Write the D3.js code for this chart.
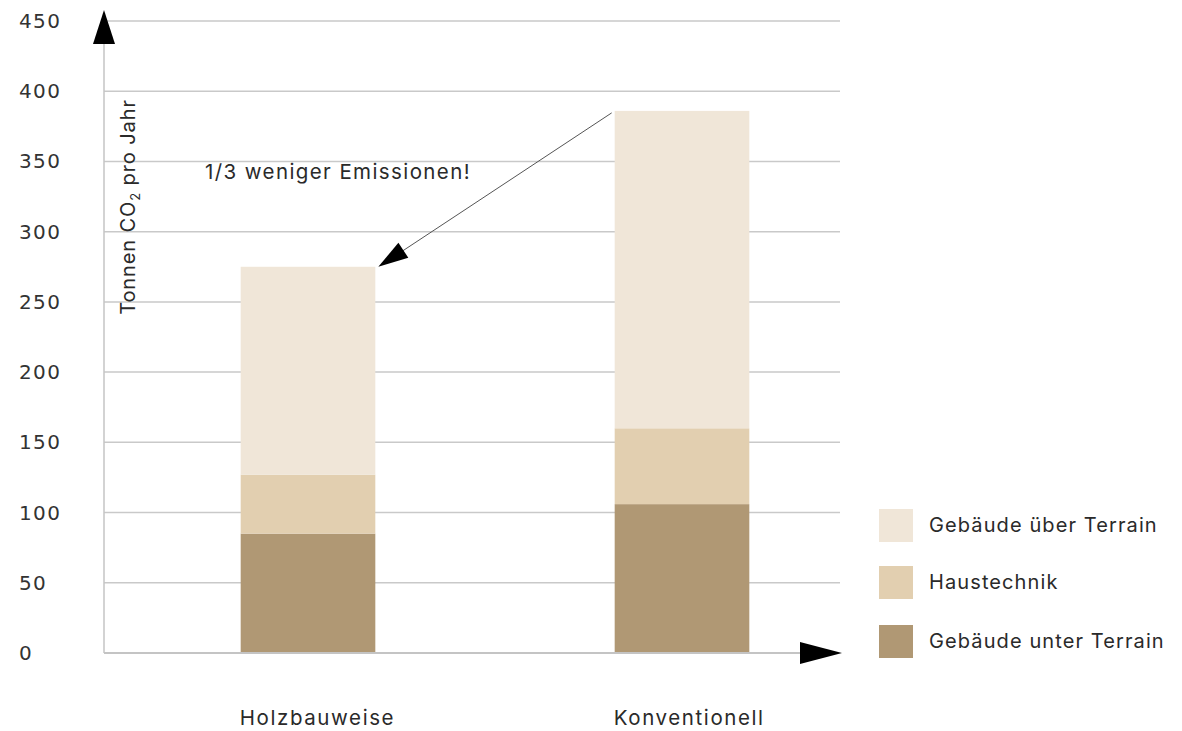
<!DOCTYPE html>
<html>
<head>
<meta charset="utf-8">
<script src="https://cdnjs.cloudflare.com/ajax/libs/d3/7.8.5/d3.min.js"></script>
<style>
  body { margin: 0; background: #fff; }
</style>
</head>
<body>
<div id="chart"></div>
<script>
// Daten
const categories = ["Holzbauweise", "Konventionell"];
const seriesNames = ["Gebäude unter Terrain", "Haustechnik", "Gebäude über Terrain"];
const unterTerrain = [85, 106];
const haustechnik = [42, 54];
const ueberTerrain = [148, 226];
const yTicks = [0, 50, 100, 150, 200, 250, 300, 350, 400, 450];
const colors = ["#b09874", "#e2cfb0", "#f0e6d8"];

const width = 1182, height = 731;
const svg = d3.select("#chart").append("svg")
    .attr("width", width)
    .attr("height", height)
    .style("background-color", "white");

const x0 = 104, x1 = 840, yBottom = 653, yTop = 21;
const labelFont = "Inter, sans-serif";

const y = d3.scaleLinear().domain([0, 450]).range([yBottom, yTop]);
const x = d3.scaleBand().domain(categories).range([x0 + 17, x0 + 765]).paddingInner(0.64).paddingOuter(0.32);

// Gitterlinien
svg.append("g")
    .selectAll("line")
    .data(yTicks.filter(d => d > 0))
    .enter().append("line")
    .attr("x1", x0).attr("x2", x1)
    .attr("y1", d => y(d)).attr("y2", d => y(d))
    .style("stroke", "#c9c9c9")
    .style("stroke-width", "1.5px");

// Tick-Beschriftungen
svg.append("g")
    .selectAll("text")
    .data(yTicks)
    .enter().append("text")
    .attr("x", 19)
    .attr("y", d => y(d))
    .attr("dominant-baseline", "central")
    .style("font-family", "'DejaVu Sans', sans-serif")
    .style("font-size", "20px")
    .style("letter-spacing", "1.4px")
    .style("fill", "#333")
    .text(d => d);

// gestapelte Balken
const rows = categories.map((c, i) => ({
  cat: c,
  "Gebäude unter Terrain": unterTerrain[i],
  "Haustechnik": haustechnik[i],
  "Gebäude über Terrain": ueberTerrain[i]
}));
const stack = d3.stack().keys(seriesNames)(rows);

svg.append("g")
    .selectAll("g")
    .data(stack)
    .enter().append("g")
    .style("fill", (d, i) => colors[i])
    .selectAll("rect")
    .data(d => d)
    .enter().append("rect")
    .attr("x", d => x(d.data.cat))
    .attr("width", x.bandwidth())
    .attr("y", d => y(d[1]))
    .attr("height", d => y(d[0]) - y(d[1]));

// Achsen
svg.append("line")
    .attr("x1", x0).attr("x2", x0)
    .attr("y1", yBottom).attr("y2", 40)
    .style("stroke", "#c4c4c4").style("stroke-width", "1.5px");
svg.append("line")
    .attr("x1", x0).attr("x2", 805)
    .attr("y1", yBottom).attr("y2", yBottom)
    .style("stroke", "#c4c4c4").style("stroke-width", "2px");

// Pfeilspitzen der Achsen
svg.append("path")
    .attr("d", `M${x0},10 L${x0 + 11},44 L${x0 - 11},44 Z`)
    .style("fill", "#000");
svg.append("path")
    .attr("d", `M842,${yBottom} L800,${yBottom - 11} L800,${yBottom + 11} Z`)
    .style("fill", "#000");

// Achsentitel
const yl = svg.append("text")
    .attr("transform", `translate(135, 207) rotate(-90)`)
    .attr("text-anchor", "middle")
    .style("font-family", labelFont)
    .style("font-size", "20px")
    .style("letter-spacing", "0.9px")
    .style("fill", "#2a2a2a");
yl.append("tspan").text("Tonnen CO");
yl.append("tspan").attr("dy", 5).style("font-size", "13px").text("2");
yl.append("tspan").attr("dy", -5).text(" pro Jahr");

// Kategorien
svg.append("g")
    .selectAll("text")
    .data(categories)
    .enter().append("text")
    .attr("x", d => x(d) - 1)
    .attr("y", 725)
    .style("font-family", labelFont)
    .style("font-size", "20.5px")
    .style("letter-spacing", "1.6px")
    .style("fill", "#2a2a2a")
    .text(d => d);

// Annotation
svg.append("text")
    .attr("x", 205).attr("y", 179)
    .style("font-family", labelFont)
    .style("font-size", "20.5px")
    .style("letter-spacing", "1.4px")
    .style("fill", "#2a2a2a")
    .text("1/3 weniger Emissionen!");

const topVals = rows.map((r, i) => unterTerrain[i] + haustechnik[i] + ueberTerrain[i]);
const ax0 = x(categories[1]) - 3, ay0 = y(topVals[1]) + 2;
const ax1 = x(categories[0]) + x.bandwidth() + 3, ay1 = y(topVals[0]);
svg.append("line")
    .attr("x1", ax0).attr("y1", ay0)
    .attr("x2", ax1 + 20).attr("y2", ay1 - 13)
    .style("stroke", "#555").style("stroke-width", "1px");
const ang = Math.atan2(ay1 - ay0, ax1 - ax0);
const hl = 30, hw = 9;
const bx = ax1 - hl * Math.cos(ang), by = ay1 - hl * Math.sin(ang);
svg.append("path")
    .attr("d", `M${ax1},${ay1} L${bx - hw * Math.sin(ang)},${by + hw * Math.cos(ang)} L${bx + hw * Math.sin(ang)},${by - hw * Math.cos(ang)} Z`)
    .style("fill", "#000");

// Legende
const legendItems = [
  { name: "Gebäude über Terrain", color: colors[2], y: 509 },
  { name: "Haustechnik", color: colors[1], y: 566 },
  { name: "Gebäude unter Terrain", color: colors[0], y: 625 }
];
const lg = svg.append("g").selectAll("g").data(legendItems).enter().append("g");
lg.append("rect")
    .attr("x", 879).attr("y", d => d.y)
    .attr("width", 34).attr("height", 33)
    .style("fill", d => d.color);
lg.append("text")
    .attr("x", 929).attr("y", d => d.y + 16)
    .attr("dominant-baseline", "central")
    .style("font-family", labelFont)
    .style("font-size", "20px")
    .style("letter-spacing", "1.1px")
    .style("fill", "#2a2a2a")
    .text(d => d.name);
</script>
</body>
</html>
